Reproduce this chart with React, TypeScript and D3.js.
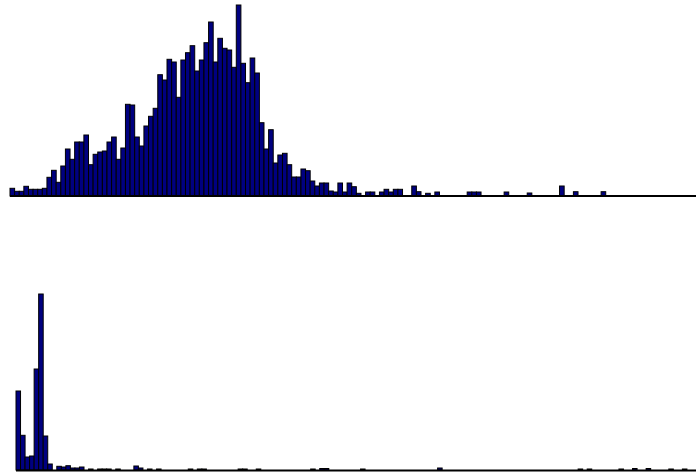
import React from "react";
import * as d3 from "d3";

// Top histogram: bin values (149 bins)
const topValues: number[] = [
  7.7, 4.7, 4.7, 9.7, 6.7, 6.7, 6.7, 7.7, 18.7, 25.7,
  13.7, 30, 47, 36.7, 54, 54, 61, 31.3, 41.7, 44,
  45, 54, 59, 36.7, 48, 91.7, 91, 59, 50, 70,
  79.7, 87.7, 121.3, 116, 136.7, 134, 98.7, 136, 143.3, 150.3,
  125, 136, 153.3, 174, 134, 157.7, 147.7, 146, 128.7, 191,
  132.7, 113.3, 138, 123, 73.3, 47, 66.3, 33, 41, 42.7,
  31.3, 19, 19, 27, 25.3, 15, 10, 13, 13, 5,
  4, 13, 4, 13, 9.3, 2.7, 0, 4, 4, 0,
  4, 6.7, 4, 6.7, 6.7, 0, 0, 10, 4.3, 0,
  2.7, 0, 4, 0, 0, 0, 0, 0, 0, 4,
  4, 4, 0, 0, 0, 0, 0, 4, 0, 0,
  0, 0, 3, 0, 0, 0, 0, 0, 0, 10,
  0, 0, 4.3, 0, 0, 0, 0, 0, 4.3, 0,
  0, 0, 0, 0, 0, 0, 0, 0, 0, 0,
  0, 0, 0, 0, 0, 0, 0, 0, 0,
];

// Bottom histogram: bin values (150 bins), sparse beyond the peak
const bottomPeak: number[] = [79, 34.7, 13, 14, 101, 176, 34, 6, 0, 3.7, 3, 4.3, 2, 2, 3];
const bottomSparseBins: number[] = [16, 18, 19, 20, 22, 26, 27, 29, 31, 38, 40, 41, 49, 50, 53, 65, 67, 68, 76, 93, 124, 126, 133, 136, 139, 144, 147];
const bottomSparseValues: number[] = [1, 1, 1, 1, 1, 4, 2, 1, 1, 1, 1, 1, 1, 1, 1, 1, 1.5, 1.5, 1, 2, 1, 1, 1, 1.5, 1.5, 1, 1];

const W = 696;
const H = 474;
const fill = "#000080";

export default function App() {
  const bottomValues: number[] = new Array(150).fill(0);
  bottomPeak.forEach((v, i) => (bottomValues[i] = v));
  bottomSparseBins.forEach((b, i) => (bottomValues[b] = bottomSparseValues[i]));

  const topBase = 196;
  const xTop = d3
    .scaleBand<number>()
    .domain(d3.range(topValues.length))
    .range([10, 10 + topValues.length * 4.618])
    .paddingInner(0);
  const yTop = d3.scaleLinear().domain([0, 191]).range([topBase, 5]);

  const botBase = 470;
  const xBot = d3
    .scaleBand<number>()
    .domain(d3.range(bottomValues.length))
    .range([16, 696])
    .paddingInner(0);
  const yBot = d3.scaleLinear().domain([0, 176]).range([botBase, 294]);

  return (
    <svg
      width={W}
      height={H}
      style={{ position: "absolute", left: 0, top: 0, background: "#fff" }}
    >
      <g>
        {topValues.map((v, i) =>
          v > 0 ? (
            <rect
              key={"t" + i}
              x={xTop(i)!}
              y={yTop(v)}
              width={xTop.bandwidth()}
              height={topBase - yTop(v)}
              fill={fill}
              stroke="#000"
              strokeWidth={1}
            />
          ) : null
        )}
        <line x1={10} x2={W} y1={topBase} y2={topBase} stroke="#000" strokeWidth={2} />
      </g>
      <g>
        {bottomValues.map((v, i) =>
          v > 0 ? (
            <rect
              key={"b" + i}
              x={xBot(i)!}
              y={yBot(v)}
              width={xBot.bandwidth()}
              height={botBase - yBot(v)}
              fill={fill}
              stroke="#000"
              strokeWidth={1}
            />
          ) : null
        )}
        <line x1={16} x2={W} y1={botBase + 0.5} y2={botBase + 0.5} stroke="#000" strokeWidth={2} />
      </g>
    </svg>
  );
}
